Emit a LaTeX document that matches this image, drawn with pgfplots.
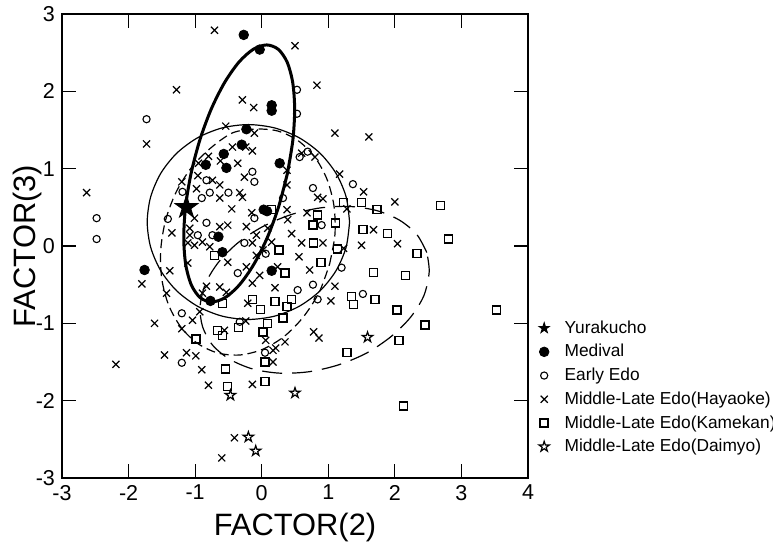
\documentclass[border=0pt]{standalone}
\usepackage{fontspec}
\setmainfont{Liberation Sans}
\usepackage{pgfplots}
\pgfplotsset{compat=1.18}

% outlined five-pointed star
\pgfdeclareplotmark{ostar}{%
  \pgfpathmoveto{\pgfqpoint{0pt}{\pgfplotmarksize}}%
  \pgfpathlineto{\pgfqpoint{0.2245\pgfplotmarksize}{0.309\pgfplotmarksize}}%
  \pgfpathlineto{\pgfqpoint{0.951\pgfplotmarksize}{0.309\pgfplotmarksize}}%
  \pgfpathlineto{\pgfqpoint{0.363\pgfplotmarksize}{-0.118\pgfplotmarksize}}%
  \pgfpathlineto{\pgfqpoint{0.588\pgfplotmarksize}{-0.809\pgfplotmarksize}}%
  \pgfpathlineto{\pgfqpoint{0pt}{-0.382\pgfplotmarksize}}%
  \pgfpathlineto{\pgfqpoint{-0.588\pgfplotmarksize}{-0.809\pgfplotmarksize}}%
  \pgfpathlineto{\pgfqpoint{-0.363\pgfplotmarksize}{-0.118\pgfplotmarksize}}%
  \pgfpathlineto{\pgfqpoint{-0.951\pgfplotmarksize}{0.309\pgfplotmarksize}}%
  \pgfpathlineto{\pgfqpoint{-0.2245\pgfplotmarksize}{0.309\pgfplotmarksize}}%
  \pgfpathclose
  \pgfusepathqfillstroke}

\begin{document}
\begin{tikzpicture}
\begin{axis}[
    name=ax,
    scale only axis,
    width=233bp, height=232bp,
    xmin=-3, xmax=4, ymin=-3, ymax=3,
    xtick={-3,-2,-1,0,1,2,3,4},
    ytick={-3,-2,-1,0,1,2,3},
    tick align=inside,
    major tick length=7bp,
    axis line style={line width=0.6bp},
    tick style={line width=0.6bp, black},
    ticklabel style={font=\fontsize{10.8}{12}\selectfont},
    /pgf/number format/assume math mode=true,
    xlabel={FACTOR(2)}, ylabel={FACTOR(3)},
    every axis x label/.style={at={(rel axis cs:0.5,-0.106)}, anchor=center,
        font=\fontsize{15.5}{18}\selectfont},
    every axis y label/.style={at={(rel axis cs:-0.075,0.5)}, rotate=90, anchor=center,
        font=\fontsize{15.5}{18}\selectfont},
    legend cell align=left,
    legend image code/.code={\path (0cm,0cm) (0.46cm,0cm);
        \draw[mark repeat=2,mark phase=2,#1] plot coordinates {(0cm,0cm) (0.15cm,0cm) (0.46cm,0cm)};},
    legend style={at={(1.002,0.358)}, anchor=north west, draw=none, fill=none,
        font=\fontsize{8.7}{10}\selectfont, row sep=0pt,
        nodes={inner sep=1.2pt, text height=7.3pt, text depth=2.2pt}},
]
% Yurakucho
\addplot[only marks, mark=ostar, mark size=6bp, mark options={fill=black, line width=0.4bp},
    legend image code/.code={\path (0cm,0cm) (0.46cm,0cm);
        \draw[only marks, mark=ostar, mark size=2.8bp, mark options={fill=black}] plot coordinates {(0.15cm,0cm)};}]
    coordinates {(-1.13,0.50)};
\addlegendentry{Yurakucho}
% Medival
\addplot[only marks, mark=*, mark size=2.4bp, mark options={fill=black}]
    coordinates {(-0.27,2.73) (-0.03,2.54) (0.15,1.82) (0.15,1.75) (-0.23,1.51) (-0.30,1.31)
    (-0.57,1.19) (-0.84,1.05) (-0.53,1.01) (0.27,1.07) (0.03,0.47) (0.08,0.45) (-0.65,0.12)
    (-0.59,-0.08) (-1.76,-0.31) (0.15,-0.32) (-0.77,-0.71)};
\addlegendentry{Medival}
% Early Edo
\addplot[only marks, mark=o, mark size=1.8bp, mark options={line width=0.55bp}]
    coordinates {(-1.73,1.64) (-2.48,0.36) (-2.48,0.09) (0.53,2.02) (0.53,1.71) (0.57,1.15)
    (0.69,1.22) (-0.14,0.96) (-0.11,0.83) (-0.83,0.85) (-1.19,0.70) (-0.90,0.62) (-0.78,0.69)
    (-0.50,0.69) (-0.11,0.36) (-1.41,0.35) (-0.83,0.30) (-0.96,0.14) (-0.74,0.14) (-0.26,0.04)
    (1.37,0.80) (0.77,0.75) (0.32,0.62) (0.90,0.27) (-0.36,-0.35) (0.06,-0.10) (0.54,-0.57)
    (0.77,-0.50) (0.84,-0.69) (1.20,-0.28) (-1.20,-0.87) (-0.33,-0.98) (-1.20,-1.51)
    (0.05,-1.38) (1.52,-0.62)};
\addlegendentry{Early Edo}
% Middle-Late Edo (Hayaoke)
\addplot[only marks, mark=x, mark size=2.5bp, mark options={line width=0.6bp}]
    coordinates {(-0.71,2.79) (0.50,2.59) (0.83,2.08) (-1.28,2.02) (-0.29,1.89) (-0.12,1.79)
    (-1.73,1.32) (-0.54,1.55) (-0.11,1.46) (-0.44,1.28) (-0.24,1.28) (-0.14,1.23) (-0.80,1.16)
    (-0.95,1.07) (-0.62,1.10) (-0.36,1.07) (1.10,1.46) (1.61,1.41) (0.60,1.20) (0.80,1.15)
    (-2.63,0.69) (0.38,0.98) (1.17,0.93) (1.53,0.70) (0.38,0.79) (0.84,0.63) (0.92,0.61)
    (2.00,0.57) (1.28,0.48) (0.38,0.47) (0.68,0.43) (0.39,0.34) (0.09,0.23) (0.45,0.16)
    (1.68,0.21) (0.60,0.04) (0.92,0.04) (1.50,0.01) (2.04,0.03) (1.23,-0.03) (0.56,-0.14)
    (0.72,-0.31) (1.10,-0.52) (1.04,-0.71) (-0.96,0.91) (-0.26,0.89) (-0.74,0.85) (-0.63,0.79)
    (-1.20,0.83) (-0.98,0.74) (-0.63,0.62) (-0.33,0.69) (-0.29,0.63) (-0.45,0.48) (-0.15,0.43)
    (-1.01,0.36) (-1.35,0.17) (-1.08,0.23) (-1.08,0.14) (-0.63,0.25) (-0.51,0.27) (-0.23,0.25)
    (-0.08,0.14) (-1.11,0.04) (-1.01,0.01) (-0.89,0.05) (-0.78,-0.01) (-0.14,0.04) (0.02,-0.05)
    (0.15,0.05) (-1.80,-0.49) (-1.38,-0.32) (-1.11,-0.22) (-0.51,-0.21) (-0.23,-0.27)
    (-0.08,-0.12) (0.24,-0.27) (-0.03,-0.38) (-0.83,-0.52) (-0.63,-0.53) (-0.53,-0.60)
    (-0.14,-0.48) (0.20,-0.54) (-1.43,-0.61) (-0.89,-0.61) (-0.21,-0.74) (-0.93,-0.85)
    (-1.04,-0.96) (-1.61,-1.00) (-1.20,-1.07) (-0.24,-0.97) (-0.56,-1.09) (0.78,-1.11)
    (0.86,-1.19) (0.06,-1.22) (0.35,-1.24) (-1.13,-1.38) (-0.99,-1.42) (-1.46,-1.41)
    (0.17,-1.35) (0.21,-1.32) (0.17,-1.50) (-0.90,-1.60) (-0.80,-1.80) (-0.14,-1.79)
    (-2.19,-1.53) (-0.41,-2.48) (-0.60,-2.74)};
\addlegendentry{Middle-Late Edo(Hayaoke)}
% Middle-Late Edo (Kamekan)
\addplot[only marks, mark=square, mark size=2bp, mark options={line width=0.7bp}]
    coordinates {(0.15,0.47) (-0.71,-0.12) (0.26,-0.05) (1.23,0.56) (1.50,0.56) (1.73,0.47)
    (0.84,0.40) (0.77,0.27) (1.11,0.30) (1.52,0.21) (1.89,0.16) (0.78,0.04) (1.14,-0.04)
    (2.69,0.52) (2.81,0.09) (2.33,-0.10) (0.89,-0.21) (1.68,-0.34) (2.16,-0.38) (0.35,-0.35)
    (1.35,-0.65) (1.70,-0.69) (0.45,-0.69) (0.38,-0.78) (1.38,-0.76) (2.03,-0.83) (3.53,-0.83)
    (0.32,-0.93) (2.45,-1.02) (-0.59,-0.74) (-0.14,-0.69) (0.20,-0.72) (-0.02,-0.82)
    (0.09,-1.00) (-0.35,-1.05) (-0.66,-1.09) (-0.59,-1.16) (0.02,-1.11) (-0.99,-1.20)
    (0.05,-1.50) (1.28,-1.38) (-0.54,-1.59) (-0.51,-1.82) (0.05,-1.75) (2.06,-1.22)
    (2.13,-2.07)};
\addlegendentry{Middle-Late Edo(Kamekan)}
% Middle-Late Edo (Daimyo)
\addplot[only marks, mark=ostar, mark size=2.7bp, mark options={fill=white, line width=0.6bp}]
    coordinates {(-0.47,-1.93) (0.50,-1.90) (-0.20,-2.47) (-0.09,-2.65) (1.59,-1.18)};
\addlegendentry{Middle-Late Edo(Daimyo)}

% ellipses (traced from the figure)
\addplot[forget plot, smooth, line width=1.5bp] coordinates {
    (0.386,0.938) (0.468,1.369) (0.495,1.769) (0.466,2.113) (0.382,2.378) (0.248,2.544)
    (0.075,2.600) (-0.126,2.544) (-0.342,2.378) (-0.558,2.113) (-0.759,1.769) (-0.930,1.369)
    (-1.061,0.938) (-1.144,0.507) (-1.171,0.107) (-1.142,-0.237) (-1.058,-0.502) (-0.924,-0.668)
    (-0.751,-0.724) (-0.550,-0.668) (-0.334,-0.502) (-0.118,-0.237) (0.083,0.107) (0.254,0.507)
    (0.386,0.938)};
\addplot[forget plot, smooth, line width=0.6bp] coordinates {
    (1.32,0.31) (1.268,0.636) (1.116,0.94) (0.875,1.201) (0.56,1.401) (0.193,1.527)
    (-0.2,1.57) (-0.593,1.527) (-0.96,1.401) (-1.275,1.201) (-1.516,0.94) (-1.668,0.636)
    (-1.72,0.31) (-1.668,-0.016) (-1.516,-0.32) (-1.275,-0.581) (-0.96,-0.781) (-0.593,-0.907)
    (-0.2,-0.95) (0.193,-0.907) (0.56,-0.781) (0.875,-0.581) (1.116,-0.32) (1.268,-0.016)
    (1.32,0.31)};
\addplot[forget plot, smooth, line width=0.6bp, dash pattern=on 4.5bp off 2.5bp] coordinates {
    (1.02,-0.233) (1.10,0.147) (1.085,0.522) (0.98,0.865) (0.795,1.153) (0.542,1.365)
    (0.237,1.488) (-0.098,1.512) (-0.438,1.463) (-0.764,1.269) (-1.054,1.016) (-1.285,0.698)
    (-1.443,0.336) (-1.516,-0.044) (-1.502,-0.420) (-1.399,-0.762) (-1.213,-1.050)
    (-0.962,-1.261) (-0.657,-1.384) (-0.323,-1.409) (0.02,-1.334) (0.344,-1.165)
    (0.63,-0.913) (0.865,-0.595) (1.02,-0.233)};
\addplot[forget plot, smooth, line width=0.6bp, dash pattern=on 10bp off 5bp] coordinates {
    (2.48,-0.084) (2.33,0.149) (2.074,0.332) (1.732,0.457) (1.324,0.511) (0.883,0.493)
    (0.434,0.404) (0.009,0.248) (-0.360,0.039) (-0.650,-0.211) (-0.844,-0.485) (-0.925,-0.778)
    (-0.889,-1.041) (-0.739,-1.281) (-0.482,-1.464) (-0.140,-1.589) (0.267,-1.644)
    (0.709,-1.626) (1.158,-1.536) (1.583,-1.381) (1.952,-1.165) (2.242,-0.915) (2.437,-0.640)
    (2.516,-0.335) (2.48,-0.084)};
\end{axis}
\pgfresetboundingbox
\path (ax.south west) ++(-31bp,-36.5bp) rectangle ++(386.5bp,275.5bp);
\end{tikzpicture}
\end{document}
